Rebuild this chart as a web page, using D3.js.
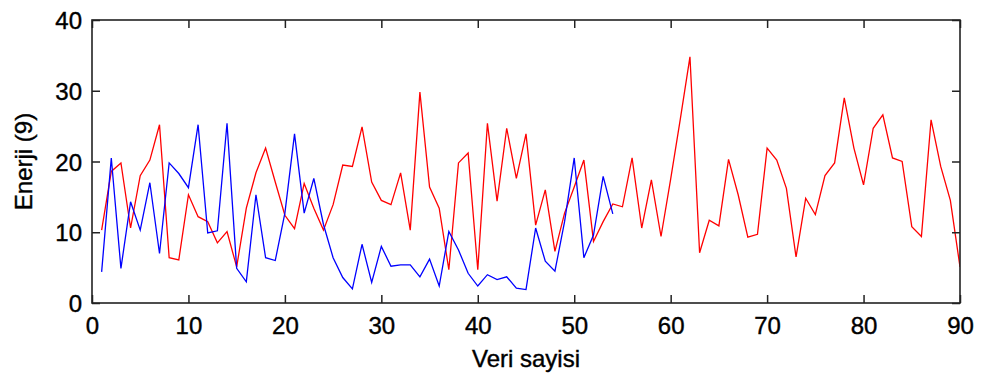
<!DOCTYPE html>
<html>
<head>
<meta charset="utf-8">
<script src="https://cdn.jsdelivr.net/npm/d3@7"></script>
<style>
  html, body { margin: 0; padding: 0; background: #fff; }
  svg { display: block; }
  text { font-family: "Liberation Sans", Arial, sans-serif; fill: #000; stroke: #000; stroke-width: 0.4px; }
</style>
</head>
<body>
<svg id="chart" width="981" height="381"></svg>
<script>
// Energy per sample, two series (blue: 54 samples, red: 90 samples)
const blueValues = [
  4.4, 20.5, 4.9, 14.3, 10.3, 17.0, 7.0, 19.8, 18.3, 16.3,
  25.2, 9.9, 10.2, 25.4, 4.9, 3.0, 15.3, 6.4, 6.0, 12.7,
  23.9, 12.7, 17.6, 11.1, 6.4, 3.6, 2.0, 8.3, 2.9, 8.0,
  5.2, 5.4, 5.4, 3.7, 6.2, 2.4, 10.1, 7.5, 4.2, 2.4,
  4.0, 3.3, 3.7, 2.1, 1.9, 10.6, 5.9, 4.5, 11.5, 20.5,
  6.4, 9.6, 17.9, 12.6
];
const redValues = [
  10.3, 18.6, 19.8, 10.6, 18.0, 20.2, 25.2, 6.4, 6.1, 15.3,
  12.2, 11.5, 8.5, 10.1, 5.1, 13.4, 18.4, 21.9, 17.1, 12.4,
  10.5, 16.9, 13.4, 10.3, 13.9, 19.5, 19.3, 24.9, 17.1, 14.5,
  13.9, 18.4, 10.3, 29.8, 16.4, 13.4, 4.7, 19.8, 21.2, 4.7,
  25.4, 14.4, 24.7, 17.6, 23.9, 11.0, 16.0, 7.3, 12.7, 16.4,
  20.2, 8.7, 11.5, 14.0, 13.6, 20.5, 10.6, 17.4, 9.4, 17.5,
  26.0, 34.8, 7.1, 11.7, 10.9, 20.3, 15.3, 9.3, 9.7, 21.9,
  20.2, 16.2, 6.5, 14.8, 12.5, 18.0, 19.8, 29.0, 21.9, 16.7,
  24.7, 26.6, 20.5, 20.0, 10.8, 9.4, 25.9, 19.3, 14.5, 5.1
];
const xTicks = [0, 10, 20, 30, 40, 50, 60, 70, 80, 90];
const yTicks = [0, 10, 20, 30, 40];
const xLabel = "Veri sayisi";
const yLabel = "Enerji (9)";

const svg = d3.select("#chart");
const margin = { left: 92, top: 20, right: 21, bottom: 78 };
const W = 981, H = 381;
const iw = W - margin.left - margin.right;
const ih = H - margin.top - margin.bottom;

const x = d3.scaleLinear().domain([0, 90]).range([0, iw]);
const y = d3.scaleLinear().domain([0, 40]).range([ih, 0]);

const g = svg.append("g").attr("transform", `translate(${margin.left},${margin.top})`);

// data lines
const line = d3.line().x((d, i) => x(i + 1)).y(d => y(d));
g.append("clipPath").attr("id", "plotclip")
  .append("rect").attr("width", iw).attr("height", ih);

g.append("path").datum(redValues)
  .attr("d", line).attr("fill", "none")
  .attr("stroke", "#ff0000").attr("stroke-width", 1.3)
  .attr("clip-path", "url(#plotclip)");
g.append("path").datum(blueValues)
  .attr("d", line).attr("fill", "none")
  .attr("stroke", "#0000ff").attr("stroke-width", 1.3)
  .attr("clip-path", "url(#plotclip)");

// axes with inward ticks on all four sides
const tickLen = 8;
const fontSize = 24;

const axisB = g.append("g").attr("transform", `translate(0,${ih})`)
  .call(d3.axisBottom(x).tickValues(xTicks).tickSize(-tickLen).tickPadding(14).tickFormat(d3.format("d")));
const axisT = g.append("g")
  .call(d3.axisTop(x).tickValues(xTicks).tickSize(-tickLen).tickFormat(""));
const axisL = g.append("g")
  .call(d3.axisLeft(y).tickValues(yTicks).tickSize(-tickLen).tickPadding(10).tickFormat(d3.format("d")));
const axisR = g.append("g").attr("transform", `translate(${iw},0)`)
  .call(d3.axisRight(y).tickValues(yTicks).tickSize(-tickLen).tickFormat(""));

[axisB, axisT, axisL, axisR].forEach(a => {
  a.select(".domain").remove();
  a.selectAll(".tick line").attr("stroke", "#222").attr("stroke-width", 1.5);
  a.selectAll("text").attr("font-size", fontSize)
    .attr("font-family", "'Liberation Sans', Arial, sans-serif").attr("fill", "#000");
});
axisL.selectAll("text").attr("dy", "0.36em");

// frame
g.append("rect").attr("width", iw).attr("height", ih)
  .attr("fill", "none").attr("stroke", "#222").attr("stroke-width", 1.6);

// axis titles
svg.append("text")
  .attr("x", margin.left + iw / 2).attr("y", 367)
  .attr("text-anchor", "middle").attr("font-size", fontSize)
  .text(xLabel);
svg.append("text")
  .attr("transform", `translate(32,${margin.top + ih / 2}) rotate(-90)`)
  .attr("text-anchor", "middle").attr("font-size", fontSize)
  .text(yLabel);
</script>
</body>
</html>
